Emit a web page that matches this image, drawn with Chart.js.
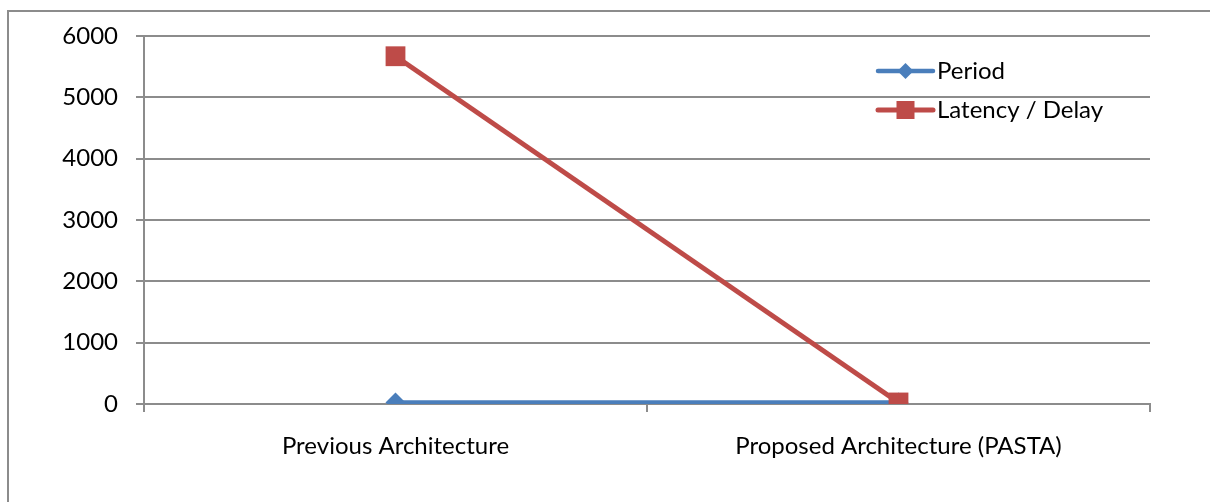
<!DOCTYPE html>
<html>
<head>
<meta charset="utf-8">
<script src="https://cdn.jsdelivr.net/npm/chart.js@4/dist/chart.umd.min.js"></script>
<style>
  html, body { margin: 0; padding: 0; background: #fff; overflow: hidden; }
  #frame { position: absolute; left: 7px; top: 10px; width: 1300px; height: 600px; border: 2px solid #8c8c8c; box-sizing: border-box; }
  #wrap { position: absolute; left: 0; top: 0; width: 1210px; height: 502px; }
</style>
</head>
<body>
<div id="frame"></div>
<div id="wrap"><canvas id="c" width="1210" height="502"></canvas></div>
<script>
const categories = ["Previous Architecture", "Proposed Architecture (PASTA)"];
const periodValues = [25, 25];
const latencyValues = [5670, 25];
const yTicks = [0, 1000, 2000, 3000, 4000, 5000, 6000];
const seriesNames = ["Period", "Latency / Delay"];

const FONT = "Lato, 'Open Sans', sans-serif";
const FSIZE = 24;
const BLUE = "#4A7EBB";
const RED = "#BE4B48";
const GRID = "#8c8c8c";

const legendPlugin = {
  id: 'excelLegend',
  afterDraw(chart) {
    const ctx = chart.ctx;
    const items = chart.data.datasets;
    const x0 = 878, lineLen = 55, rowH = 39, y0 = 71;
    ctx.save();
    items.forEach((ds, i) => {
      const y = y0 + i * rowH;
      ctx.strokeStyle = ds.borderColor;
      ctx.lineWidth = ds.borderWidth;
      ctx.lineCap = 'round';
      ctx.beginPath();
      ctx.moveTo(x0, y);
      ctx.lineTo(x0 + lineLen, y);
      ctx.stroke();
      ctx.fillStyle = ds.backgroundColor;
      const cx = x0 + lineLen / 2;
      if (ds.pointStyle === 'rectRot') {
        const r = 8;
        ctx.beginPath();
        ctx.moveTo(cx, y - r); ctx.lineTo(cx + r, y); ctx.lineTo(cx, y + r); ctx.lineTo(cx - r, y);
        ctx.closePath(); ctx.fill();
      } else {
        const s = 9;
        ctx.fillRect(cx - s, y - s, 2 * s, 2 * s);
      }
      ctx.fillStyle = '#000';
      ctx.font = FSIZE + "px " + FONT;
      ctx.textBaseline = 'middle';
      ctx.textAlign = 'left';
      ctx.fillText(ds.label, x0 + lineLen + 4, y);
    });
    ctx.restore();
  }
};

new Chart(document.getElementById('c'), {
  type: 'line',
  data: {
    labels: categories,
    datasets: [
      {
        label: seriesNames[0],
        data: periodValues,
        borderColor: BLUE,
        backgroundColor: BLUE,
        borderWidth: 4.5,
        pointStyle: 'rectRot',
        pointRadius: 10,
        pointHoverRadius: 10,
        pointBorderWidth: 0,
        order: 1
      },
      {
        label: seriesNames[1],
        data: latencyValues,
        borderColor: RED,
        backgroundColor: RED,
        borderWidth: 5,
        pointStyle: 'rect',
        pointRadius: 14,
        pointHoverRadius: 14,
        pointBorderWidth: 0,
        order: 0
      }
    ]
  },
  options: {
    responsive: false,
    animation: false,
    events: [],
    layout: { padding: { left: 0, top: 36, right: 60, bottom: 0 } },
    plugins: { legend: { display: false }, tooltip: { enabled: false } },
    scales: {
      x: {
        type: 'category',
        offset: true,
        afterFit(scale) { scale.height = 98; },
        grid: { offset: true, drawOnChartArea: false, drawTicks: true, tickLength: 8, color: GRID, lineWidth: 2 },
        border: { display: true, color: GRID, width: 2 },
        ticks: { color: '#000', font: { family: FONT, size: FSIZE }, padding: 20, maxRotation: 0, autoSkip: false }
      },
      y: {
        min: 0, max: 6000,
        afterFit(scale) { scale.width = 144; },
        afterBuildTicks(scale) { scale.ticks = yTicks.map(v => ({ value: v })); },
        grid: { color: GRID, lineWidth: 2, tickLength: 8, drawTicks: true },
        border: { display: true, color: GRID, width: 2 },
        ticks: { color: '#000', font: { family: FONT, size: FSIZE }, padding: 18, callback: (v) => String(v) }
      }
    }
  },
  plugins: [legendPlugin]
});
</script>
</body>
</html>
